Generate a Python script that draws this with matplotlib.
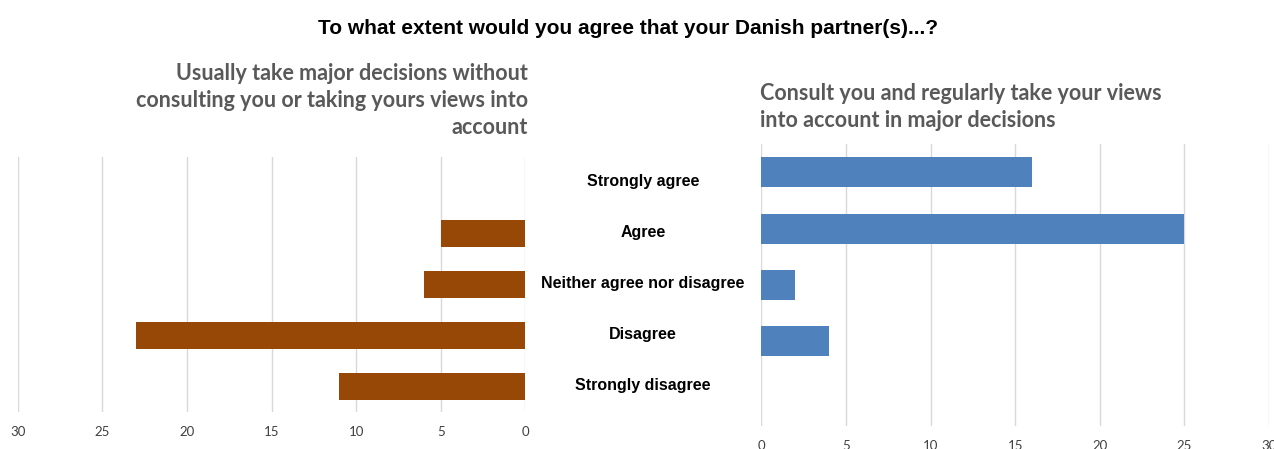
import matplotlib
matplotlib.use("Agg")
import matplotlib.pyplot as plt
import matplotlib.transforms as mtransforms

categories = ["Strongly agree", "Agree", "Neither agree nor disagree",
              "Disagree", "Strongly disagree"]
without_consulting = [0, 5, 6, 23, 11]
consult_regularly = [16, 25, 2, 4, 0]
x_ticks = [0, 5, 10, 15, 20, 25, 30]

title = "To what extent would you agree that your Danish partner(s)...?"
left_subtitle = ("Usually take major decisions without\n"
                 "consulting you or taking yours views into\n"
                 "account")
right_subtitle = ("Consult you and regularly take your views\n"
                  "into account in major decisions")

BROWN = "#974706"
BLUE = "#4F81BD"
GRID = "#d9d9d9"
SUB = "#595959"
TICK = "#404040"

W, H = 1274, 449
fig = plt.figure(figsize=(W / 100, H / 100), dpi=100)
fig.patch.set_facecolor("white")


def px_axes(x0, y0, x1, y1):
    return fig.add_axes([x0 / W, 1 - y1 / H, (x1 - x0) / W, (y1 - y0) / H])


ax_l = px_axes(17.9, 157, 525.4, 412)
ax_r = px_axes(761.4, 144, 1269, 426)

ypos = list(range(len(categories)))

for ax, vals, color in ((ax_l, without_consulting, BROWN),
                        (ax_r, consult_regularly, BLUE)):
    ax.barh(ypos, vals, height=0.53, color=color, zorder=3, linewidth=0)
    ax.set_ylim(len(categories) - 0.5, -0.5)
    ax.set_xticks(x_ticks)
    ax.set_xticklabels([str(t) for t in x_ticks], fontsize=9.5,
                       color=TICK, family=["Lato", "DejaVu Sans"])
    ax.set_yticks([])
    ax.grid(axis="x", color=GRID, linewidth=1.0, zorder=0)
    for s in ax.spines.values():
        s.set_visible(False)
    ax.tick_params(axis="x", length=0, pad=10)

ax_l.set_xlim(30, 0)
ax_r.set_xlim(0, 30)

# Category names between the two panels, aligned with the left panel rows
trans = mtransforms.blended_transform_factory(fig.transFigure, ax_l.transData)
for i, cat in enumerate(categories):
    fig.text(643 / W, i - 0.02, cat, transform=trans, ha="center", va="center",
             fontsize=11.5, fontweight="bold", color="black",
             family=["Liberation Sans Narrow", "Liberation Sans"])

fig.text(628 / W, 1 - 28 / H, title, ha="center", va="center",
         fontsize=15, fontweight="bold", color="black",
         family=["Liberation Sans", "DejaVu Sans"])

fig.text(528 / W, 1 - 63.5 / H, left_subtitle, ha="right", va="top",
         fontsize=15.5, fontweight="bold", color=SUB, linespacing=1.35,
         multialignment="right", family=["Lato", "DejaVu Sans"])
fig.text(760 / W, 1 - 83.5 / H, right_subtitle, ha="left", va="top",
         fontsize=15.5, fontweight="bold", color=SUB, linespacing=1.35,
         family=["Lato", "DejaVu Sans"])

fig.savefig("out.png", dpi=100, facecolor="white")
